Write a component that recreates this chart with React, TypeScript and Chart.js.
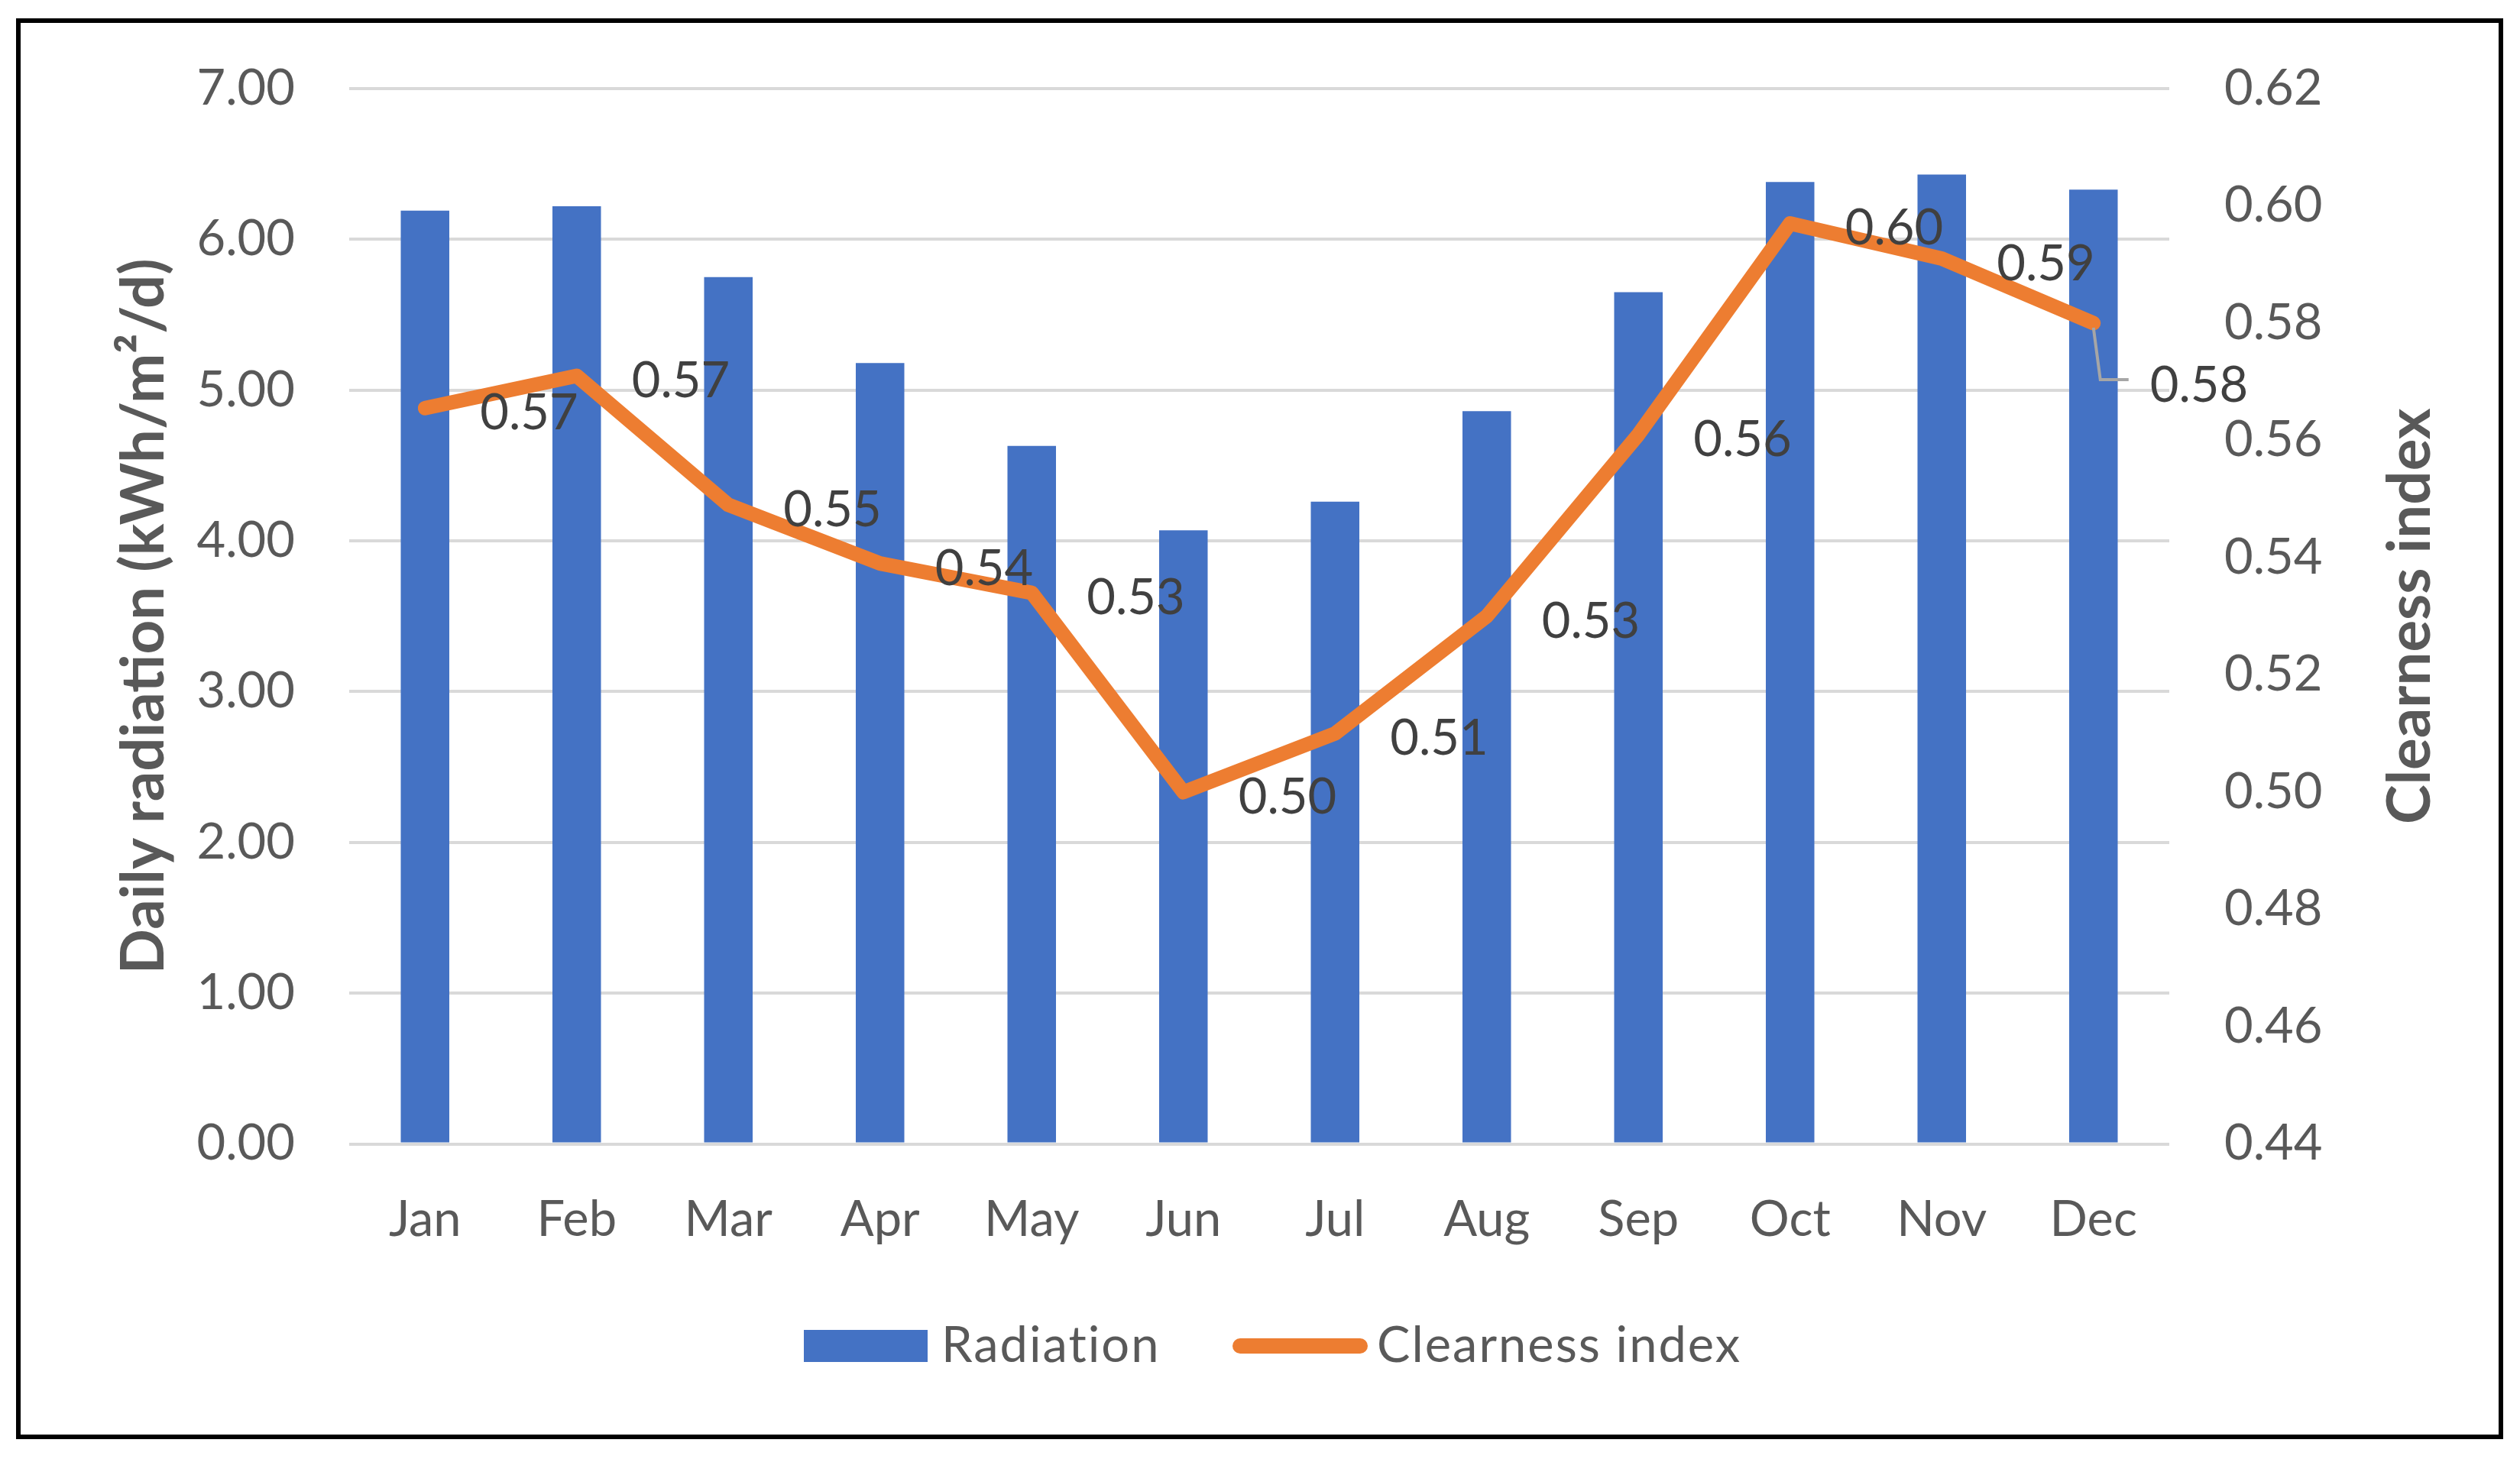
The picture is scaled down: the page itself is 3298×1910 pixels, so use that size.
import React, { useEffect, useRef } from 'react';
import { Chart, registerables } from 'chart.js';

Chart.register(...registerables);

const months = ['Jan', 'Feb', 'Mar', 'Apr', 'May', 'Jun', 'Jul', 'Aug', 'Sep', 'Oct', 'Nov', 'Dec'];
const radiation = [6.19, 6.22, 5.75, 5.18, 4.63, 4.07, 4.26, 4.86, 5.65, 6.38, 6.43, 6.33];
const clearness = [0.5655, 0.571, 0.549, 0.539, 0.534, 0.5, 0.51, 0.53, 0.561, 0.597, 0.591, 0.58];
const seriesNames = ['Radiation', 'Clearness index'];
const leftTitle = 'Daily radiation (kWh/m\u00B2/d)';
const rightTitle = 'Clearness index';

const W = 3298;
const H = 1910;
const FONT = 'Lato';
const FS = 65;
const TITLE_FS = 78;
const AXIS_COLOR = '#595959';
const LABEL_COLOR = '#404040';
const BAR_COLOR = '#4472C4';
const LINE_COLOR = '#ED7D31';

export default function App() {
  const ref = useRef<HTMLCanvasElement>(null);

  useEffect(() => {
    document.body.style.margin = '0';
    const canvas = ref.current!;

    const deco = {
      id: 'deco',
      beforeDraw(chart: any) {
        const c = chart.ctx;
        c.save();
        c.fillStyle = '#FFFFFF';
        c.fillRect(0, 0, chart.width, chart.height);
        c.restore();
      },
      afterDatasetsDraw(chart: any) {
        const c = chart.ctx;
        const meta = chart.getDatasetMeta(0);
        c.save();
        c.font = `${FS}px ${FONT}`;
        c.fillStyle = LABEL_COLOR;
        c.textAlign = 'left';
        c.textBaseline = 'middle';
        meta.data.forEach((pt: any, i: number) => {
          const txt = clearness[i].toFixed(2);
          if (i === clearness.length - 1) {
            c.save();
            c.strokeStyle = '#A6A6A6';
            c.lineWidth = 4;
            c.beginPath();
            c.moveTo(pt.x, pt.y + 6);
            c.lineTo(pt.x + 9, pt.y + 74);
            c.lineTo(pt.x + 46, pt.y + 74);
            c.stroke();
            c.restore();
            c.fillText(txt, pt.x + 74, pt.y + 82);
          } else {
            c.fillText(txt, pt.x + 72, pt.y + 7);
          }
        });
        c.restore();
      },
      afterDraw(chart: any) {
        const c = chart.ctx;
        const area = chart.chartArea;
        const midY = (area.top + area.bottom) / 2;
        c.save();
        // outer border
        c.strokeStyle = '#000000';
        c.lineWidth = 6;
        c.strokeRect(24, 27, 3249, 1854);

        // axis titles
        c.font = `bold ${TITLE_FS}px ${FONT}`;
        c.fillStyle = AXIS_COLOR;
        c.textAlign = 'center';
        c.textBaseline = 'middle';
        c.save();
        c.translate(189, midY);
        c.rotate(-Math.PI / 2);
        c.fillText(leftTitle, 0, 0);
        c.restore();
        c.save();
        c.translate(3155, midY);
        c.rotate(-Math.PI / 2);
        c.fillText(rightTitle, 0, 0);
        c.restore();

        // legend
        c.font = `${FS}px ${FONT}`;
        (c as any).letterSpacing = '2px';
        const ly = 1762;
        c.fillStyle = BAR_COLOR;
        c.fillRect(1052, ly - 21, 162, 42);
        c.fillStyle = AXIS_COLOR;
        c.textAlign = 'left';
        c.fillText(seriesNames[0], 1232, ly);
        c.strokeStyle = LINE_COLOR;
        c.lineWidth = 20;
        c.lineCap = 'round';
        c.beginPath();
        c.moveTo(1623, ly);
        c.lineTo(1780, ly);
        c.stroke();
        c.fillText(seriesNames[1], 1802, ly);
        c.restore();
      },
    };

    const fmt = (v: any) => Number(v).toFixed(2);

    const chart = new Chart(canvas, {
      type: 'bar',
      data: {
        labels: months,
        datasets: [
          {
            type: 'line',
            label: seriesNames[1],
            data: clearness,
            yAxisID: 'y1',
            borderColor: LINE_COLOR,
            backgroundColor: LINE_COLOR,
            borderWidth: 19,
            borderCapStyle: 'round',
            borderJoinStyle: 'round',
            pointRadius: 0,
            tension: 0,
            fill: false,
            order: 1,
          } as any,
          {
            type: 'bar',
            label: seriesNames[0],
            data: radiation,
            yAxisID: 'y',
            backgroundColor: BAR_COLOR,
            barPercentage: 0.32,
            categoryPercentage: 1,
            order: 2,
          } as any,
        ],
      },
      options: {
        responsive: false,
        animation: false,
        devicePixelRatio: 1,
        layout: { padding: { top: 116, left: 0, right: 0, bottom: 0 } },
        plugins: { legend: { display: false }, tooltip: { enabled: false } },
        scales: {
          x: {
            grid: { display: false, drawTicks: false },
            border: { display: false },
            ticks: { font: { family: FONT, size: FS }, color: AXIS_COLOR, padding: 61, maxRotation: 0, autoSkip: false },
            afterFit(s: any) {
              s.height = H - 1497.5;
            },
          },
          y: {
            position: 'left',
            min: 0,
            max: 7,
            ticks: { stepSize: 1, callback: fmt, font: { family: FONT, size: FS }, color: AXIS_COLOR, padding: 71 },
            grid: { color: '#D9D9D9', lineWidth: 4, drawTicks: false },
            border: { display: false },
            afterFit(s: any) {
              s.width = 457;
            },
          },
          y1: {
            position: 'right',
            min: 0.44,
            max: 0.62,
            ticks: { stepSize: 0.02, callback: fmt, font: { family: FONT, size: FS }, color: AXIS_COLOR, padding: 72 },
            grid: { display: false, drawTicks: false },
            border: { display: false },
            afterFit(s: any) {
              s.width = W - 2839;
            },
          },
        },
      } as any,
      plugins: [deco],
    });

    return () => chart.destroy();
  }, []);

  return (
    <div style={{ position: 'fixed', left: 0, top: 0, width: W, height: H, background: '#fff' }}>
      <canvas ref={ref} width={W} height={H} style={{ width: W, height: H, display: 'block' }} />
    </div>
  );
}
